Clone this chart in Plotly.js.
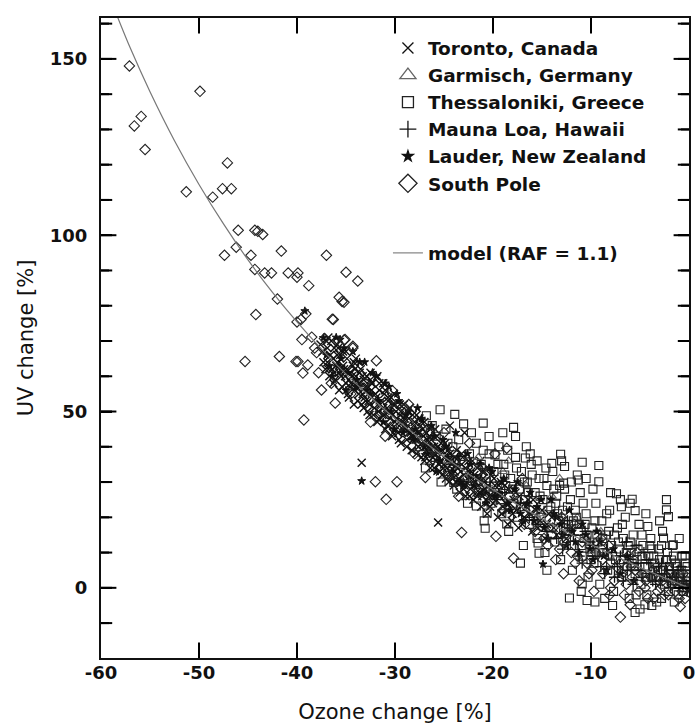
<!DOCTYPE html>
<html>
<head>
<meta charset="utf-8">
<script src="https://cdn.plot.ly/plotly-3.0.1.min.js"></script>
<style>html,body{margin:0;padding:0;background:#fff;}#chart{width:696px;height:727px;}</style>
</head>
<body>
<div id="chart"></div>
<script>
// ---- Data: [ozone change %, UV change %] ----
const toronto = [
[-37.4,67],[-37.0,70],[-36.9,64],[-36.6,66],[-36.4,62],[-36.2,68],[-36.1,59],[-35.9,64],[-35.7,61],[-35.6,66],
[-35.4,57],[-35.3,63],[-35.1,60],[-34.9,65],[-34.8,55],[-34.6,61],[-34.5,58],[-34.3,63],[-34.1,56],[-34.0,60],
[-33.8,53],[-33.7,58],[-33.5,62],[-33.3,55],[-33.2,51],[-33.0,57],[-32.9,60],[-32.7,53],[-32.6,49],[-32.4,56],
[-32.3,58],[-32.1,51],[-31.9,54],[-31.8,47],[-31.6,56],[-31.5,52],[-31.3,49],[-31.1,55],[-31.0,45],[-30.8,51],
[-30.7,54],[-30.5,48],[-30.3,43],[-30.2,52],[-30.0,47],[-29.9,50],[-29.7,44],[-29.5,49],[-29.4,41],[-29.2,47],
[-29.1,52],[-28.9,45],[-28.8,42],[-28.6,48],[-28.4,44],[-28.3,39],[-28.1,46],[-27.9,42],[-27.8,49],[-27.6,40],
[-27.5,44],[-27.3,37],[-27.1,43],[-27.0,47],[-26.8,39],[-26.7,42],[-26.5,36],[-26.4,45],[-26.2,40],[-26.0,34],
[-25.9,38],[-25.7,43],[-25.5,35],[-25.4,39],[-25.2,32],[-25.0,37],[-24.9,41],[-24.7,34],[-24.5,30],[-24.4,38],
[-24.2,35],[-24.0,29],[-23.9,33],[-23.7,39],[-23.5,31],[-23.4,27],[-23.2,35],[-23.0,32],[-22.8,26],[-22.7,30],
[-22.5,36],[-22.3,28],[-22.2,33],[-22.0,25],[-21.8,30],[-21.6,34],[-21.4,27],[-21.2,23],[-21.0,31],[-20.8,28],
[-20.6,21],[-20.4,26],[-20.2,32],[-20.0,24],[-19.8,29],[-19.5,20],[-19.3,26],[-19.0,23],[-18.8,29],[-18.5,18],
[-18.3,24],[-18.0,21],[-17.7,27],[-17.4,17],[-17.1,23],[-16.8,20],[-16.4,25],[-16.0,16],[-15.6,22],[-15.2,19],
[-14.7,14],[-14.3,21],[-13.8,17],[-33.4,35.5],[-25.6,18.5],[-24.4,46],[-22.9,44],
[-36.8,62],[-36.3,65],[-35.8,68],[-35.2,62],[-34.7,59],[-34.2,64],[-33.6,57],[-33.1,54],[-32.5,61],[-31.7,50],
[-31.2,58],[-30.6,46],[-30.1,55],[-29.6,47],[-28.7,50],[-28.2,43],[-27.4,46],[-26.9,41],[-26.1,37],[-25.3,41],
[-24.6,36],[-23.8,30],[-23.1,37],[-22.4,31],[-21.5,29],[-20.9,33],[-20.1,26],[-19.2,30],[-18.6,22],
[-37.3,64],[-36.9,68],[-36.7,60],[-36.5,70],[-36.3,58],[-36.0,63],[-35.9,69],[-35.7,56],[-35.5,62],[-35.3,67],
[-35.0,58],[-34.9,62],[-34.7,54],[-34.4,60],[-34.2,52],[-34.0,65],[-33.9,57],[-33.6,61],[-33.4,52],[-33.2,59],
[-33.0,53],[-32.8,57],[-32.6,52],[-32.5,59],[-32.2,49],[-32.0,55],[-31.8,60],[-31.6,48],[-31.4,53],[-31.2,51],
[-31.0,56],[-30.8,46],[-30.6,50],[-30.4,54],[-30.2,44],[-30.0,52],[-29.8,48],[-29.6,42],[-29.4,50],[-29.2,45],
[-29.0,48],[-28.8,40],[-28.7,46],[-28.5,51],[-28.3,43],[-28.0,47],[-27.8,38],[-27.7,44],[-27.5,48],[-27.3,41],
[-27.2,45],[-27.0,36],[-26.8,44],[-26.6,40],[-26.4,34],[-26.3,42],[-26.1,38],[-25.9,45],[-25.8,36],[-25.6,40],
[-25.4,33],[-25.2,39],[-25.0,35],[-24.8,31],[-24.6,39],[-24.4,33],[-24.3,36],[-24.1,31],[-23.9,37],[-23.6,34],
[-23.4,30],[-23.2,38],[-23.0,28],[-22.8,34],[-22.6,31],[-22.4,26],[-22.1,36],[-21.9,32],[-21.7,27],[-21.5,31],
[-21.3,36],[-21.1,26],[-20.9,30],[-20.7,25],[-20.5,29],[-20.3,23],[-20.1,28],[-19.9,31],[-19.7,25],[-19.4,29],
[-19.1,21],[-18.9,26],[-18.7,24],[-18.4,28],[-18.1,19],[-17.9,25],[-17.6,22],[-17.3,26],[-17.0,18],[-16.6,23],
[-16.2,21],[-15.9,25],[-15.4,17],[-15.0,22],[-14.5,18],[-14.0,20],[-13.5,15],[-13.0,19],[-12.5,14],[-12.0,17],
[-37.6,69],[-37.1,62],[-36.8,71],[-36.2,61],[-35.9,66],[-35.5,60],[-35.0,67],[-34.6,57],[-34.1,62],[-33.7,55],
[-33.3,60],[-32.8,50],[-32.4,58],[-32.0,53],[-31.6,58],[-31.1,49],[-30.7,53],[-30.3,49],[-29.9,45],[-29.5,52],
[-29.1,46],[-28.6,44],[-28.2,49],[-27.7,42],[-27.3,47],[-26.9,37],[-26.5,43],[-26.0,40],[-25.6,37],[-25.1,34],
[-24.7,40],[-24.2,32],[-23.7,35],[-23.3,33],[-22.9,29],[-22.5,33],[-22.0,29],[-21.6,26],[-21.1,33],[-20.6,27]
];
const garmisch = [
[-24.6,36],[-22.8,31],[-21.5,37],[-20.1,28],[-19.0,33],[-17.8,25],[-16.6,29],[-15.3,21],[-14.0,26],[-12.6,17],
[-11.4,20],[-10.2,13],[-9.0,16],[-8.1,9],[-18.4,36],[-13.2,31]
];
const thessaloniki = [
[-25.4,50.5],[-23.9,49.2],[-26.8,48.8],[-21.0,46.7],[-17.9,45.5],[-17.7,42.9],[-20.4,42.9],[-23.0,46.5],[-13.1,37.9],[-10.9,35.6],
[-9.2,34.7],[-2.3,25.0],[-2.3,22.1],[-2.1,20.2],[-7.4,26.7],[-5.8,25.1],[-5.5,21.9],[-6.9,23.0],[-9.2,30.1],[-11.3,30.6],
[-12.8,29.7],[-12.7,34.4],[-14.0,35.3],[-20.6,21.2],[-20.8,16.9],[-21.7,23.2],[-24.0,29.9],[-19.8,37.7],[-16.7,36.8],[-18.6,18.1],
[-17.2,7.0],[-15.4,12.7],[-15.3,9.8],[-12.2,-2.9],[-10.4,-3.6],[-10.9,1.1],[-5.5,-7.0],[-4.5,-4.8],[-0.4,9.1],[-1.6,12.2],
[-4.2,17.4],[-2.6,14.1],[-1.8,7.9],
[-27.5,40],[-26.9,34],[-26.4,44],[-25.9,37],[-25.3,30],[-24.8,45],[-24.6,33],[-24.1,40],[-23.7,28],[-23.5,42],
[-23.0,35],[-22.6,24],[-22.4,38],[-22.1,31],[-21.7,41],[-21.5,27],[-21.2,35],[-20.9,19],[-20.7,30],[-20.4,38],
[-20.2,24],[-19.9,33],[-19.6,27],[-19.4,40],[-19.1,21],[-18.9,35],[-18.7,29],[-18.4,16],[-18.2,31],[-17.9,24],
[-17.7,37],[-17.5,20],[-17.3,28],[-17.1,33],[-16.9,12],[-16.7,25],[-16.5,30],[-16.3,18],[-16.1,35],[-15.9,22],
[-15.7,27],[-15.5,14],[-15.3,31],[-15.1,20],[-14.9,25],[-14.7,10],[-14.5,29],[-14.3,17],[-14.1,23],[-13.9,33],
[-13.7,13],[-13.5,26],[-13.3,19],[-13.1,8],[-12.9,22],[-12.7,28],[-12.5,14],[-12.3,18],[-12.1,25],[-11.9,5],
[-11.7,12],[-11.5,20],[-11.3,16],[-11.1,27],[-10.9,9],[-10.7,14],[-10.5,21],[-10.3,3],[-10.1,11],[-9.9,17],
[-9.7,7],[-9.5,24],[-9.3,13],[-9.1,1],[-8.9,19],[-8.7,10],[-8.5,15],[-8.3,5],[-8.1,22],[-7.9,12],
[-7.7,-1],[-7.5,8],[-7.3,17],[-7.1,11],[-6.9,3],[-6.7,14],[-6.5,20],[-6.3,6],[-6.1,-3],[-5.9,10],
[-5.7,15],[-5.5,4],[-5.3,8],[-5.1,18],[-4.9,1],[-4.7,12],[-4.5,6],[-4.3,-2],[-4.1,9],[-3.9,14],
[-3.7,3],[-3.5,7],[-3.3,-4],[-3.1,11],[-2.9,5],[-2.7,16],[-2.5,1],[-2.3,8],[-2.1,-1],[-1.9,4],
[-1.7,12],[-1.5,2],[-1.3,6],[-1.1,-2],[-0.9,3],[-0.7,9],[-0.5,0],[-0.3,4],[-0.2,1],[-12.0,30],
[-13.8,28],[-8.0,27],[-6.0,24],[-10.5,31],[-15.5,36],[-11.0,-1],[-9.6,-4],[-16.6,40],[-19.0,44],[-14.5,5],
[-3.0,19],[-4.4,21],[-1.0,14],[-5.0,-6],[-7.8,-5],[-2.8,-3],
[-19.5,35],[-19.2,25],[-18.8,32],[-18.5,39],[-18.0,28],[-17.6,34],[-17.2,23],[-16.8,30],[-16.4,27],[-16.0,32],
[-15.6,19],[-15.2,26],[-14.8,31],[-14.4,22],[-14.0,15],[-13.6,24],[-13.2,29],[-12.8,17],[-12.4,23],[-12.0,12],
[-11.6,22],[-11.2,18],[-10.8,24],[-10.4,15],[-10.0,8],[-9.6,19],[-9.2,10],[-8.8,14],[-8.4,21],[-8.0,7],
[-7.6,15],[-7.2,5],[-6.8,18],[-6.4,10],[-6.0,13],[-5.6,6],[-5.2,11],[-4.8,15],[-4.4,3],[-4.0,12],
[-3.6,9],[-3.2,5],[-2.8,12],[-2.4,3],[-2.0,6],[-1.6,9],[-1.2,1],[-0.8,5],[-0.4,7],[-0.1,3],
[-14.6,34],[-11.4,32],[-9.8,28],[-7.0,25],[-16.2,38],[-13.0,36],[-5.4,-2],[-3.8,-5],[-8.6,-3],[-1.5,-4],
[-24.6,41],[-22.2,44],[-21.0,39],[-25.8,43],[-26.2,46],
[-4.8,9],[-4.2,6],[-3.8,11],[-3.4,3],[-3.0,8],[-2.6,5],[-2.2,10],[-1.8,2],[-1.4,7],[-1.0,4],
[-0.6,-1],[-0.2,6],[-5.8,7],[-6.2,12],[-6.7,8],[-7.2,13],[-7.8,9],[-8.2,16],[-8.8,11],[-9.4,15],
[-9.9,10],[-10.6,18],[-11.0,12],[-11.8,19],[-12.6,16],[-13.4,21]
];
const maunaLoa = [
[-13.5,14],[-12.4,19],[-11.2,9],[-10.6,16],[-9.8,12],[-9.0,6],[-8.4,11],[-7.6,3],[-7.0,9],[-6.4,13],
[-5.7,1],[-5.2,7],[-4.6,10],[-4.0,4],[-3.4,1],[-2.8,7],[-2.2,2],[-1.6,5],[-1.0,0],[-0.5,2],
[-0.1,0],[-15.4,18],[-17.2,24],[-18.8,27],[-20.3,30],
[-12.9,11],[-11.8,15],[-10.9,7],[-10.1,13],[-9.3,9],[-8.6,4],[-7.9,10],[-7.3,6],[-6.7,2],[-6.0,8],
[-5.4,12],[-4.9,5],[-4.3,8],[-3.7,2],[-3.1,6],[-2.5,4],[-1.9,0],[-1.3,3],[-0.8,6],[-0.3,1],
[-14.5,16],[-16.3,20],[-19.6,25],[-22.0,32],[-24.0,35],
[-4.7,3],[-4.1,7],[-3.5,4],[-2.9,2],[-2.3,5],[-1.7,3],[-1.1,5],[-0.6,2],[-0.2,-1],[-6.3,5]
];
const lauder = [
[-36.7,63],[-36.0,71],[-35.5,65],[-35.0,56],[-34.3,67],[-33.9,59],[-33.1,64],[-32.5,55],[-31.9,60],[-31.2,47],
[-30.6,57],[-30.1,45],[-29.6,53],[-28.9,49],[-28.2,42],[-27.7,51],[-27.0,40],[-26.3,46],[-25.8,33],[-25.1,42],
[-24.6,37],[-23.8,44],[-23.3,30],[-22.6,38],[-21.9,29],[-21.3,35],[-20.7,24],[-20.1,33],[-19.4,27],[-18.9,31],
[-18.2,22],[-17.5,30],[-16.9,19],[-16.2,27],[-15.5,23],[-14.8,17],[-14.1,25],[-13.5,20],[-12.9,15],[-12.2,22],
[-11.6,13],[-10.9,18],[-10.1,11],[-9.4,16],[-8.7,9],[-33.4,30.3],[-35.6,70.4],[-39.2,78.5],[-37.3,70.9],[-14.9,6.7],
[-37.0,66],[-36.4,60],[-35.8,63],[-35.2,68],[-34.8,61],[-34.0,57],[-33.6,64],[-32.9,56],[-32.3,61],[-31.7,53],
[-31.0,58],[-30.4,50],[-29.8,55],[-29.2,44],[-28.6,50],[-27.9,45],[-27.3,48],[-26.7,38],[-26.0,43],[-25.4,36],
[-24.8,40],[-24.2,33],[-23.6,37],[-23.0,29],[-22.3,35],[-21.6,31],[-21.0,27],[-20.4,34],[-19.8,26],[-19.1,30],
[-18.5,24],[-17.8,28],[-17.2,21],[-16.5,24],[-15.8,19],[-15.1,25],[-14.4,14],[-13.8,21],[-13.1,18],[-12.5,12],
[-11.9,16],[-11.2,10],[-10.5,15],[-9.8,8],[-9.1,13],[-8.4,5],[-7.7,11],[-7.0,4],[-6.3,9],[-5.6,2]
];
const southPole = [
[-57.1,148],[-49.9,140.8],[-56.6,131],[-55.9,133.7],[-55.5,124.3],[-51.3,112.3],[-48.6,110.8],[-47.6,113.2],[-46.7,113.2],[-47.1,120.5],
[-46.0,101.4],[-44.3,101.4],[-44.0,101.1],[-43.5,100.2],[-46.2,96.6],[-47.4,94.3],[-44.7,94.3],[-41.6,95.5],[-37.0,94.3],[-44.3,90.3],
[-43.3,89.3],[-42.6,89.3],[-40.9,89.3],[-39.9,89.3],[-40.0,88.1],[-38.8,85.7],[-35.0,89.5],[-33.8,87.0],[-35.7,82.4],[-35.2,81.0],
[-42.0,81.9],[-44.2,77.5],[-40.0,75.4],[-39.6,76.1],[-39.1,77.7],[-36.3,76.1],[-39.5,70.4],[-38.5,71.1],[-37.2,70.7],[-35.1,70.4],
[-34.3,68.5],[-45.3,64.2],[-41.8,65.6],[-40.1,64.2],[-36.4,76.2],[-35.4,81.2],[-39.9,64.2],[-38.9,63.2],[-39.4,60.9],[-37.5,56.1],
[-36.1,52.4],[-39.3,47.6],[-34.3,68.0],[-31.9,64.4],[-35.2,70.3],[-38.0,66.7],[-32.0,30.1],[-29.8,30.1],[-30.9,25.1],[-23.2,15.7],
[-26.9,31.3],[-19.7,14.6],[-8.1,-2.0],[-7.0,-8.3],[-0.9,-5.3],[-6.0,-4.8],[-18.6,39.6],[-17.9,8.4],
[-33.0,58],[-31.5,50],[-30.3,56],[-29.4,46],[-28.6,52],[-27.2,45],[-26.1,39],[-25.0,44],[-23.9,36],[-22.4,41],
[-21.0,34],[-19.8,38],[-18.3,26],[-17.0,31],[-15.7,16],[-14.4,12],[-13.6,8],[-12.8,4],[-12.0,10],[-11.2,2],
[-10.4,7],[-9.7,-1],[-8.8,4],[-8.0,0],[-7.4,6],[-6.6,-2],[-5.8,3],[-5.1,-1],[-4.4,2],[-3.6,-3],
[-2.9,0],[-2.2,3],[-1.4,-1],[-0.6,1],[-0.4,-3],[-11.7,18],[-9.0,14],[-6.2,9],[-3.3,6],[-13.0,20],
[-16.2,22],[-20.5,27],[-24.5,32],[-28.0,38],
[-14.8,14],[-13.9,17],[-13.2,11],[-12.4,15],[-11.6,7],[-10.9,13],[-10.2,4],[-9.5,10],[-8.8,8],[-8.2,12],
[-7.6,2],[-7.0,7],[-6.4,1],[-5.9,6],[-5.3,10],[-4.8,4],[-4.2,-3],[-3.7,5],[-3.1,2],[-2.5,-2],
[-2.0,5],[-1.5,2],[-1.0,-3],[-0.6,4],[-0.3,0],[-16.8,18],[-19.0,22],[-21.5,30],[-23.5,26],[-27.5,41],
[-29.0,51],[-31.0,43],[-32.5,47],[-34.5,55],[-36.5,58],[-38.2,68],[-37.8,61],
[-4.5,0],[-3.9,3],[-3.2,-1],[-2.7,2],[-2.1,-2],[-1.7,1],[-1.1,2],[-0.7,-1],[-0.2,2],[-5.5,5],
[-6.8,4],[-8.5,6],[-9.9,5],[-11.4,9],[-12.7,13]
];
const modelOzone = [-58.3,-57,-55,-52.5,-50,-47.5,-45,-42.5,-40,-37.5,-35,-32.5,-30,-25,-20,-15,-10,-5,0];
const modelUV    = [161.8,153,140.7,126.8,114.4,103.2,93,83.8,75.4,67.7,60.6,54.1,48,37.2,27.8,19.6,12.3,5.8,0];
const xTicks = [-60,-50,-40,-30,-20,-10,0];
const xTickText = ['-60','-50','-40','-30','-20','-10','0'];
const yTicks = [0,50,100,150];
const yMinorTicks = [-10,10,20,30,40,60,70,80,90,110,120,130,140,160];

// ---- Plot ----
const X_RANGE = [-60, 0], Y_RANGE = [-19.9, 161.6];
const MARGIN = {l:101, r:7, t:18, b:69}, W = 696, H = 727;
const PW = W - MARGIN.l - MARGIN.r, PH = H - MARGIN.t - MARGIN.b;
const BLACK = '#111';
function station(name, pts, symbol, size, color, lw){
  return {
    type:'scatter', mode:'markers', name:name, showlegend:false,
    x: pts.map(p=>p[0]), y: pts.map(p=>p[1]),
    marker:{symbol:symbol, size:size, color:color, line:{color:color, width:lw}}
  };
}
function legendEntry(name, symbol, size, color){
  return {type:'scatter', mode:'markers', name:name, x:[null], y:[null], showlegend:true, legend:'legend',
    marker:{symbol:symbol, size:size, color:color, line:{color:color, width:1.3}}};
}
const stations = [
  ['Toronto, Canada', toronto, 'x-thin-open', 8, BLACK, 1.4, 11],
  ['Garmisch, Germany', garmisch, 'triangle-up-open', 8, '#666', 1.1, 14],
  ['Thessaloniki, Greece', thessaloniki, 'square-open', 8, '#222', 1.1, 11],
  ['Mauna Loa, Hawaii', maunaLoa, 'cross-thin-open', 8, BLACK, 1.3, 12],
  ['Lauder, New Zealand', lauder, 'star', 6, BLACK, 1, 8],
  ['South Pole', southPole, 'diamond-open', 8, '#222', 1.1, 14]
];
const traces = [];
stations.forEach(s => traces.push(station(s[0], s[1], s[2], s[3], s[4], s[5])));
traces.push({type:'scatter', mode:'lines', name:'model (RAF = 1.1)', x:modelOzone, y:modelUV, showlegend:false,
   line:{color:'#777', width:1.2, shape:'spline'}});

// Tick marks as line-shaped markers sitting on the frame; the plot-area clip keeps only the inner half.
function tickMarkers(xs, ys, symbol, size){
  return {type:'scatter', mode:'markers', x:xs, y:ys, showlegend:false, hoverinfo:'skip', cliponaxis:true,
    marker:{symbol:symbol, size:size, color:'#000', line:{color:'#000', width:2}}};
}
const innerX = xTicks.filter(v => v > X_RANGE[0] && v < X_RANGE[1]);
traces.push(tickMarkers(innerX.concat(innerX), innerX.map(()=>Y_RANGE[0]).concat(innerX.map(()=>Y_RANGE[1])), 'line-ns-open', 22));
traces.push(tickMarkers(yTicks.map(()=>X_RANGE[0]).concat(yTicks.map(()=>X_RANGE[1])), yTicks.concat(yTicks), 'line-ew-open', 22));
traces.push(tickMarkers(yMinorTicks.map(()=>X_RANGE[0]).concat(yMinorTicks.map(()=>X_RANGE[1])), yMinorTicks.concat(yMinorTicks), 'line-ew-open', 16));

stations.forEach(s => traces.push(legendEntry(s[0], s[2], s[6], s[4])));
traces.push({type:'scatter', mode:'lines', name:'model (RAF = 1.1)', x:[null], y:[null], showlegend:true,
   legend:'legend2', line:{color:'#888', width:1.2}});

// the same tick marks again as layout shapes (overlapping exactly)
const shapes = [];
function tickShape(xref, yref, x0, y0, x1, y1){
  shapes.push({type:'line', xref:xref, yref:yref, x0:x0, y0:y0, x1:x1, y1:y1, layer:'above',
    line:{color:'#000', width:2}});
}
innerX.forEach(v => {
  tickShape('x', 'paper', v, 0, v, 11/PH);
  tickShape('x', 'paper', v, 1, v, 1 - 11/PH);
});
yTicks.forEach(v => {
  tickShape('paper', 'y', 0, v, 11/PW, v);
  tickShape('paper', 'y', 1, v, 1 - 11/PW, v);
});
yMinorTicks.forEach(v => {
  tickShape('paper', 'y', 0, v, 8/PW, v);
  tickShape('paper', 'y', 1, v, 1 - 8/PW, v);
});

const tickFont = {family:'DejaVu Sans', size:18, color:'#111', weight:'bold'};
const titleFont = {family:'DejaVu Sans', size:21, color:'#111'};
const legFont = {family:'DejaVu Sans', size:18.5, color:'#111', weight:'bold'};
const layout = {
  width:W, height:H,
  margin:MARGIN,
  paper_bgcolor:'#ffffff', plot_bgcolor:'#ffffff',
  showlegend:true, hovermode:false,
  shapes:shapes,
  xaxis:{range:X_RANGE, tickmode:'array', tickvals:xTicks, ticktext:xTickText, ticks:'inside', ticklen:11, tickwidth:2, tickcolor:'#000',
    showline:true, linewidth:2, linecolor:'#111', mirror:'allticks', showgrid:false, zeroline:false,
    tickfont:tickFont, ticklabelstandoff:-3,
    title:{text:'Ozone change [%]', font:titleFont, standoff:23}},
  yaxis:{range:Y_RANGE, tickmode:'array', tickvals:yTicks, ticks:'inside', ticklen:11, tickwidth:2, tickcolor:'#000',
    showline:true, linewidth:2, linecolor:'#111', mirror:'allticks', showgrid:false, zeroline:false,
    tickfont:tickFont, ticklabelstandoff:8,
    title:{text:'UV change [%]', font:titleFont, standoff:10}},
  legend:{x:0.488, y:0.982, xanchor:'left', yanchor:'top', bgcolor:'rgba(0,0,0,0)', borderwidth:0,
    font:legFont, itemsizing:'trace'},
  legend2:{x:0.488, y:0.662, xanchor:'left', yanchor:'top', bgcolor:'rgba(0,0,0,0)', borderwidth:0,
    font:legFont}
};
Plotly.newPlot('chart', traces, layout, {staticPlot:true, displayModeBar:false});
</script>
</body>
</html>
